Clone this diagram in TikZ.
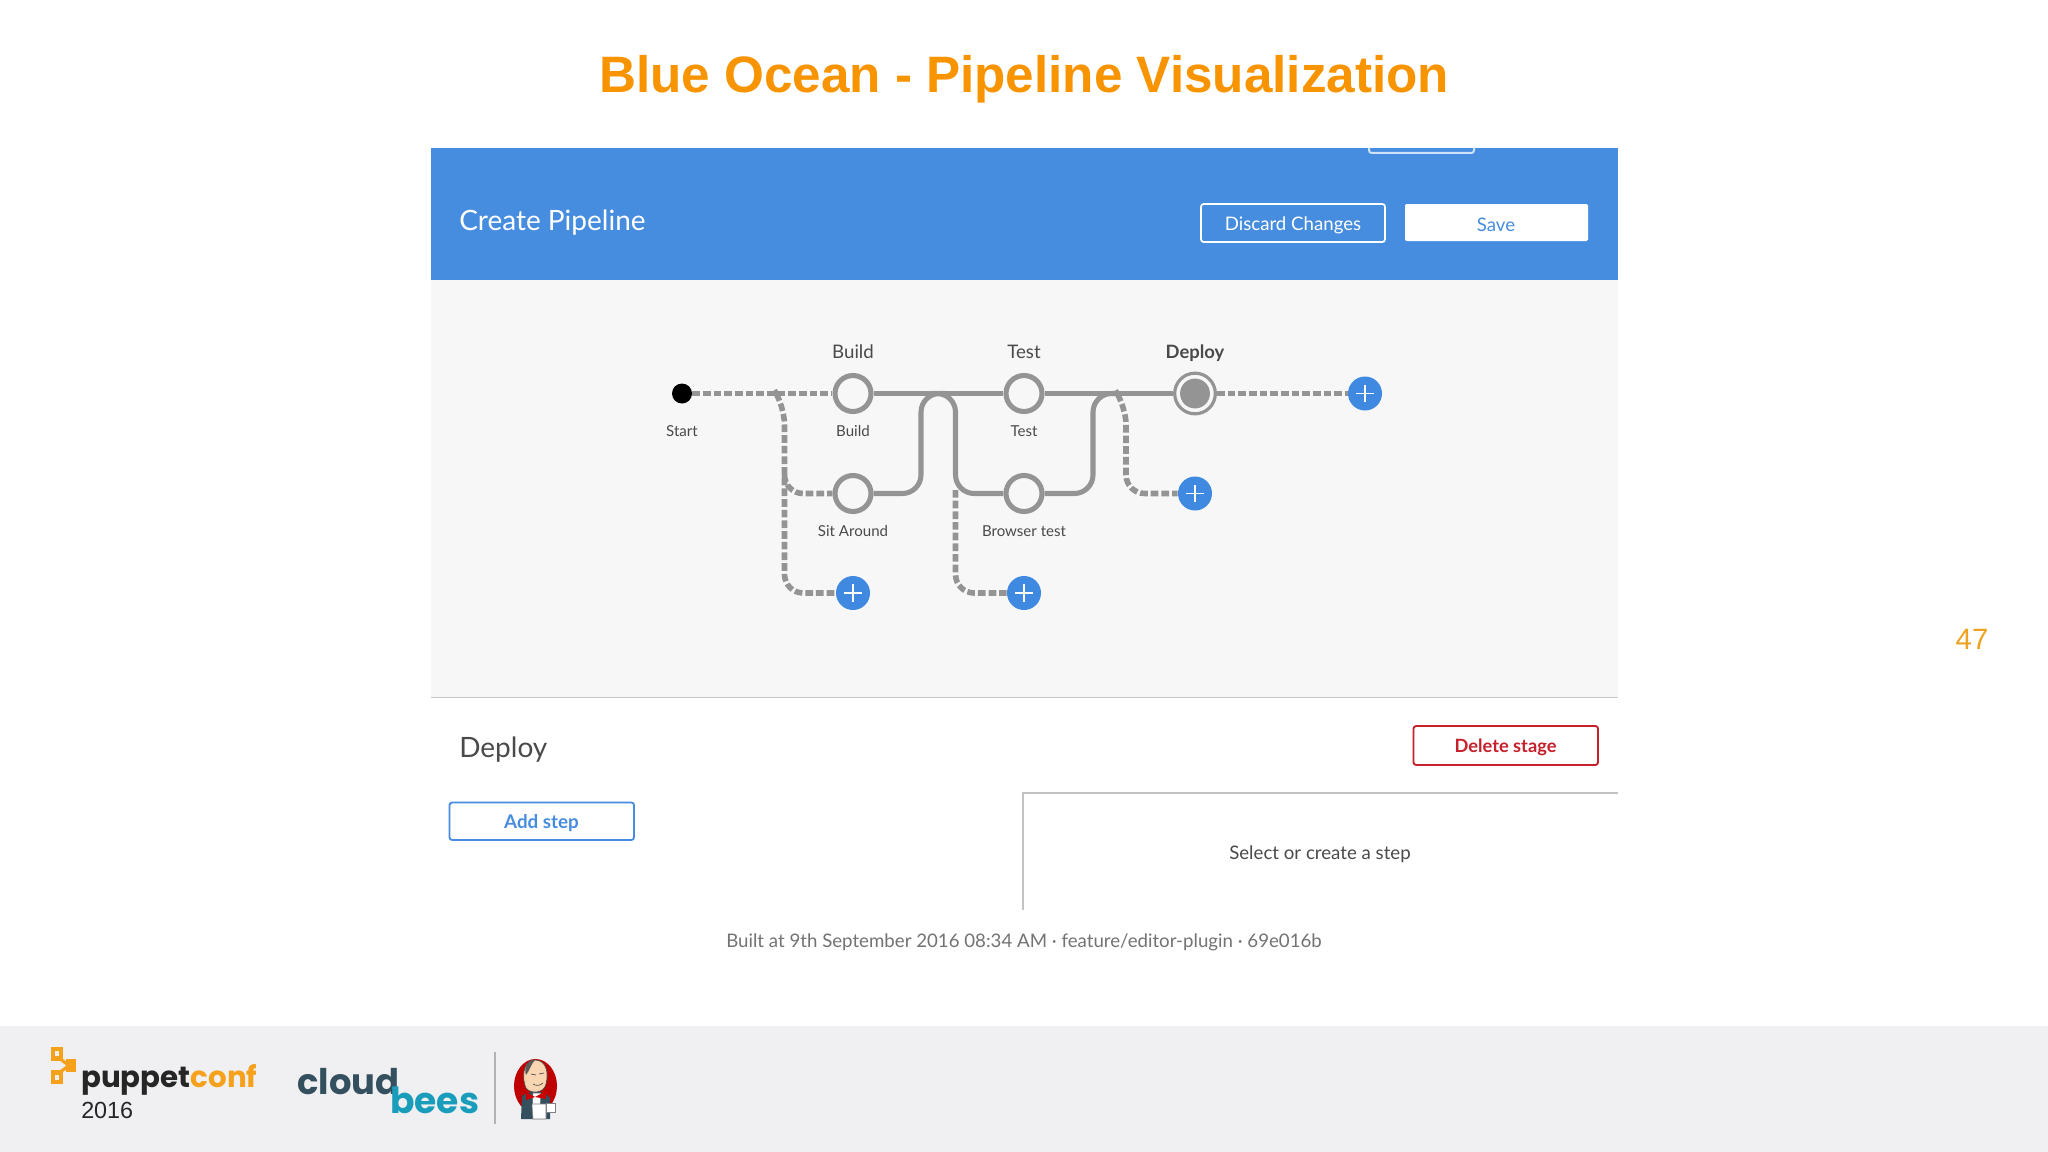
\documentclass[tikz,border=0pt]{standalone}
\usepackage{fontspec}
\setmainfont{Lato}
\newfontfamily\arialf{Liberation Sans}
\newfontfamily\logof{Poppins}
\definecolor{panelblue}{HTML}{478DDF}
\definecolor{plusblue}{HTML}{3F8AE0}
\definecolor{pipegray}{HTML}{949494}
\definecolor{softbg}{HTML}{F7F7F7}
\definecolor{titleorange}{HTML}{F79400}
\definecolor{numorange}{HTML}{EDA320}
\definecolor{bandgray}{HTML}{F0F0F2}
\definecolor{txt}{HTML}{4A4A4A}
\definecolor{stagered}{HTML}{C5202C}
\definecolor{puporange}{HTML}{F5A11C}
\definecolor{cloudslate}{HTML}{34505F}
\definecolor{beesteal}{HTML}{1A9DBB}
\tikzset{
  flow/.style={draw=pipegray,line width=3.8pt,line join=round},
  pending/.style={draw=pipegray,line width=4.2pt,dash pattern=on 5.8pt off 2.2pt},
  stagenode/.style={circle,draw=pipegray,line width=3.8pt,fill=softbg,minimum size=27pt,inner sep=0pt},
  startnode/.style={circle,fill=black,minimum size=15pt,inner sep=0pt},
  selnode/.style={circle,draw=pipegray,line width=2.4pt,fill=softbg,minimum size=30.5pt,inner sep=0pt},
  addnode/.style={circle,fill=plusblue,minimum size=25.5pt,inner sep=0pt,path picture={
     \draw[white,line width=1pt] (path picture bounding box.center) ++(-6.4pt,0) -- ++(12.8pt,0);
     \draw[white,line width=1pt] (path picture bounding box.center) ++(0,-6.4pt) -- ++(0,12.8pt);}},
  toplabel/.style={font=\fontsize{14pt}{16pt}\selectfont,text=txt,inner sep=0pt},
  sublabel/.style={font=\fontsize{11.3pt}{14pt}\selectfont,text=txt,inner sep=0pt},
  btntext/.style={font=\fontsize{14pt}{16pt}\selectfont,inner sep=0pt},
}
\begin{document}
\begin{tikzpicture}[x=0.75pt,y=-0.75pt]
\useasboundingbox (0,0) rectangle (2048,1152);
\fill[white] (0,0) rectangle (2048,1152);

\node[font=\arialf\bfseries\fontsize{38.4pt}{44pt}\selectfont,text=titleorange,inner sep=0pt] (title) at (1024,79) {Blue Ocean - Pipeline Visualization};
\node[font=\arialf\fontsize{22pt}{26pt}\selectfont,text=numorange,inner sep=0pt] (pagenum) at (1972,639) {47};

% panel
\fill[softbg] (431,280) rectangle (1618,697);
\fill[panelblue] (431,148) rectangle (1618,280);
\draw[white,opacity=.75,line width=1.5pt,rounded corners=2pt] (1369,148) -- (1369,153) -- (1474,153) -- (1474,148);
\draw[draw=black!22,line width=1.2pt] (431,697.5) -- (1618,697.5);
\node[anchor=west,font=\fontsize{21pt}{26pt}\selectfont,text=white,inner sep=0pt] (create) at (459,222.5) {Create Pipeline};
\node[btntext,text=white,minimum width=138pt,minimum height=28.5pt,inner sep=0pt] (discard) at (1293,225) {Discard Changes};
\draw[white,line width=1.3pt,rounded corners=2pt] (1201,204) rectangle (1385,242);
\fill[white,rounded corners=1pt] (1405,204) rectangle (1588,241);
\node[btntext,text=panelblue] (save) at (1496,225) {Save};

% pipeline nodes
\node[startnode] (start) at (682,393.5) {};
\node[stagenode] (build) at (853,393.5) {};
\node[stagenode] (test) at (1024,393.5) {};
\node[selnode] (deploy) at (1195,393.5) {};
\node[addnode] (addend) at (1365,393.5) {};
\node[stagenode] (sit) at (853,493.5) {};
\node[stagenode] (browser) at (1024,493.5) {};
\node[addnode] (addc) at (1195,493.5) {};
\node[addnode] (adda) at (853,593) {};
\node[addnode] (addb) at (1024,593) {};

\coordinate (ja) at (778,396);
\coordinate (jb) at (784.5,406);
\coordinate (jc) at (784.5,593);
\coordinate (jd) at (784.5,475);
\coordinate (je) at (784.5,493.5);
\coordinate (sa) at (921,493.5);
\coordinate (sb) at (921,393.5);
\coordinate (sc) at (945,393.5);
\coordinate (ta) at (931,393.5);
\coordinate (tb) at (955.5,393.5);
\coordinate (tc) at (955.5,493.5);
\coordinate (td) at (955.5,490);
\coordinate (te) at (955.5,593);
\coordinate (ua) at (1093,493.5);
\coordinate (ub) at (1093,393.5);
\coordinate (uc) at (1117,393.5);
\coordinate (va) at (1119,396);
\coordinate (vb) at (1126,406);
\coordinate (vc) at (1126,493.5);

% connectors
\draw[pending] (start) -- (build);
\draw[pending] (deploy) -- (addend);
\draw[pending,rounded corners=14pt] (ja) -- (jb) -- (jc) -- (adda);
\draw[pending,rounded corners=14pt] (jd) -- (je) -- (sit);
\draw[pending,rounded corners=14pt] (td) -- (te) -- (addb);
\draw[pending,rounded corners=14pt] (va) -- (vb) -- (vc) -- (addc);
\draw[flow] (build) -- (test);
\draw[flow] (test) -- (deploy);
\draw[flow,rounded corners=14pt] (sit) -- (sa) -- (sb) -- (sc);
\draw[flow,rounded corners=14pt] (ta) -- (tb) -- (tc) -- (browser);
\draw[flow,rounded corners=14pt] (browser) -- (ua) -- (ub) -- (uc);
\fill[pipegray] (deploy) circle (11.2pt);

% pipeline labels
\node[toplabel] (lbuild) at (853,352) {Build};
\node[toplabel] (ltest) at (1024,352) {Test};
\node[toplabel,font=\fontsize{13.8pt}{16pt}\selectfont\bfseries] (ldeploy) at (1195,353) {Deploy};
\node[sublabel] (lstart) at (682,431.5) {Start};
\node[sublabel] (lsbuild) at (853,431.5) {Build};
\node[sublabel] (lstest) at (1024,431.5) {Test};
\node[sublabel] (lsit) at (853,531.5) {Sit Around};
\node[sublabel] (lbrowser) at (1024,531.5) {Browser test};

% lower panel
\node[anchor=west,font=\fontsize{21pt}{26pt}\selectfont,text=txt,inner sep=0pt] (stagename) at (459,749.5) {Deploy};
\draw[stagered,line width=1.4pt,fill=white,rounded corners=2pt] (1413.5,726) rectangle (1598,765);
\node[font=\fontsize{13.7pt}{16pt}\selectfont\bfseries,text=stagered,inner sep=0pt] (delete) at (1505.5,747) {Delete stage};
\draw[panelblue,line width=1.4pt,fill=white,rounded corners=2pt] (449.5,802.5) rectangle (634,840);
\node[font=\fontsize{14.1pt}{16pt}\selectfont\bfseries,text=panelblue,inner sep=0pt] (addstep) at (541.5,823) {Add step};
\draw[black!24,line width=1.1pt] (1618,793) -- (1023,793) -- (1023,910);
\node[btntext,text=txt] (selecttxt) at (1320,854) {Select or create a step};
\node[font=\fontsize{14pt}{16pt}\selectfont,text=black!55,inner sep=0pt] (footer) at (1024,942) {Built at 9th September 2016 08:34 AM · feature/editor-plugin · 69e016b};

% footer band
\fill[bandgray] (0,1026) rectangle (2048,1152);
% puppet mark
\fill[puporange] (51,1047) rectangle (63,1061);
\fill[puporange] (51,1070) rectangle (63,1084);
\fill[puporange] (66,1059) rectangle (76,1072);
\draw[puporange,line width=2.4pt] (59,1058) -- (69,1065.5) -- (59,1073);
\fill[bandgray] (55,1051) rectangle (59,1056);
\fill[bandgray] (55,1075) rectangle (59,1080);
\node[anchor=base west,font=\logof\bfseries\fontsize{22pt}{26pt}\selectfont,inner sep=0pt,text=black!85] (puppet) at (81,1087) {puppet\textcolor{puporange}{conf}};
\node[anchor=base west,font=\arialf\fontsize{17.5pt}{20pt}\selectfont,inner sep=0pt,text=black!85] (year) at (81,1118) {2016};
\node[anchor=base west,font=\logof\bfseries\fontsize{26.5pt}{36pt}\selectfont,inner sep=0pt,text=cloudslate] (cloud) at (297,1094) {cloud};
\node[anchor=base west,font=\logof\bfseries\fontsize{27pt}{36pt}\selectfont,inner sep=0pt,text=beesteal] (bees) at (390,1113) {bees};
\draw[black!30,line width=.8pt] (495,1052) -- (495,1124);
% butler mascot
\fill[red!75!black] (535.5,1086) ellipse [x radius=21.5,y radius=27];
\fill[cloudslate] (521,1119) -- (522,1096) .. controls (530,1090) and (545,1090) .. (550,1098) -- (550,1119) -- cycle;
\fill[white,draw=black!60,line width=.4pt] (540,1112) -- (541,1093) -- (533,1093) -- (532,1112) -- cycle;
\fill[red!80!black] (526,1092) -- (535,1097) -- (546,1091) -- (546,1099) -- (535,1097) -- (526,1100) -- cycle;
\fill[orange!25!white!90!brown,draw=black!70,line width=.5pt] (535,1060) .. controls (522,1060) and (522,1080) .. (526,1088) .. controls (530,1094) and (544,1094) .. (546,1084) .. controls (549,1072) and (546,1060) .. (535,1060) -- cycle;
\fill[black!65] (526,1075) .. controls (523,1066) and (529,1060) .. (535,1060) .. controls (531,1064) and (530,1070) .. (526,1075) -- cycle;
\draw[black!70,line width=.5pt] (531,1074) -- (536,1075) (539,1074) -- (544,1073) (533,1084) .. controls (536,1086) and (540,1086) .. (543,1083);
\fill[white,draw=black!50,line width=.4pt] (532,1104) -- (546,1104) -- (546,1119) -- (533,1119) -- cycle;
\fill[white,draw=black!50,line width=.4pt] (546,1103) rectangle (555,1112);
\end{tikzpicture}
\end{document}
